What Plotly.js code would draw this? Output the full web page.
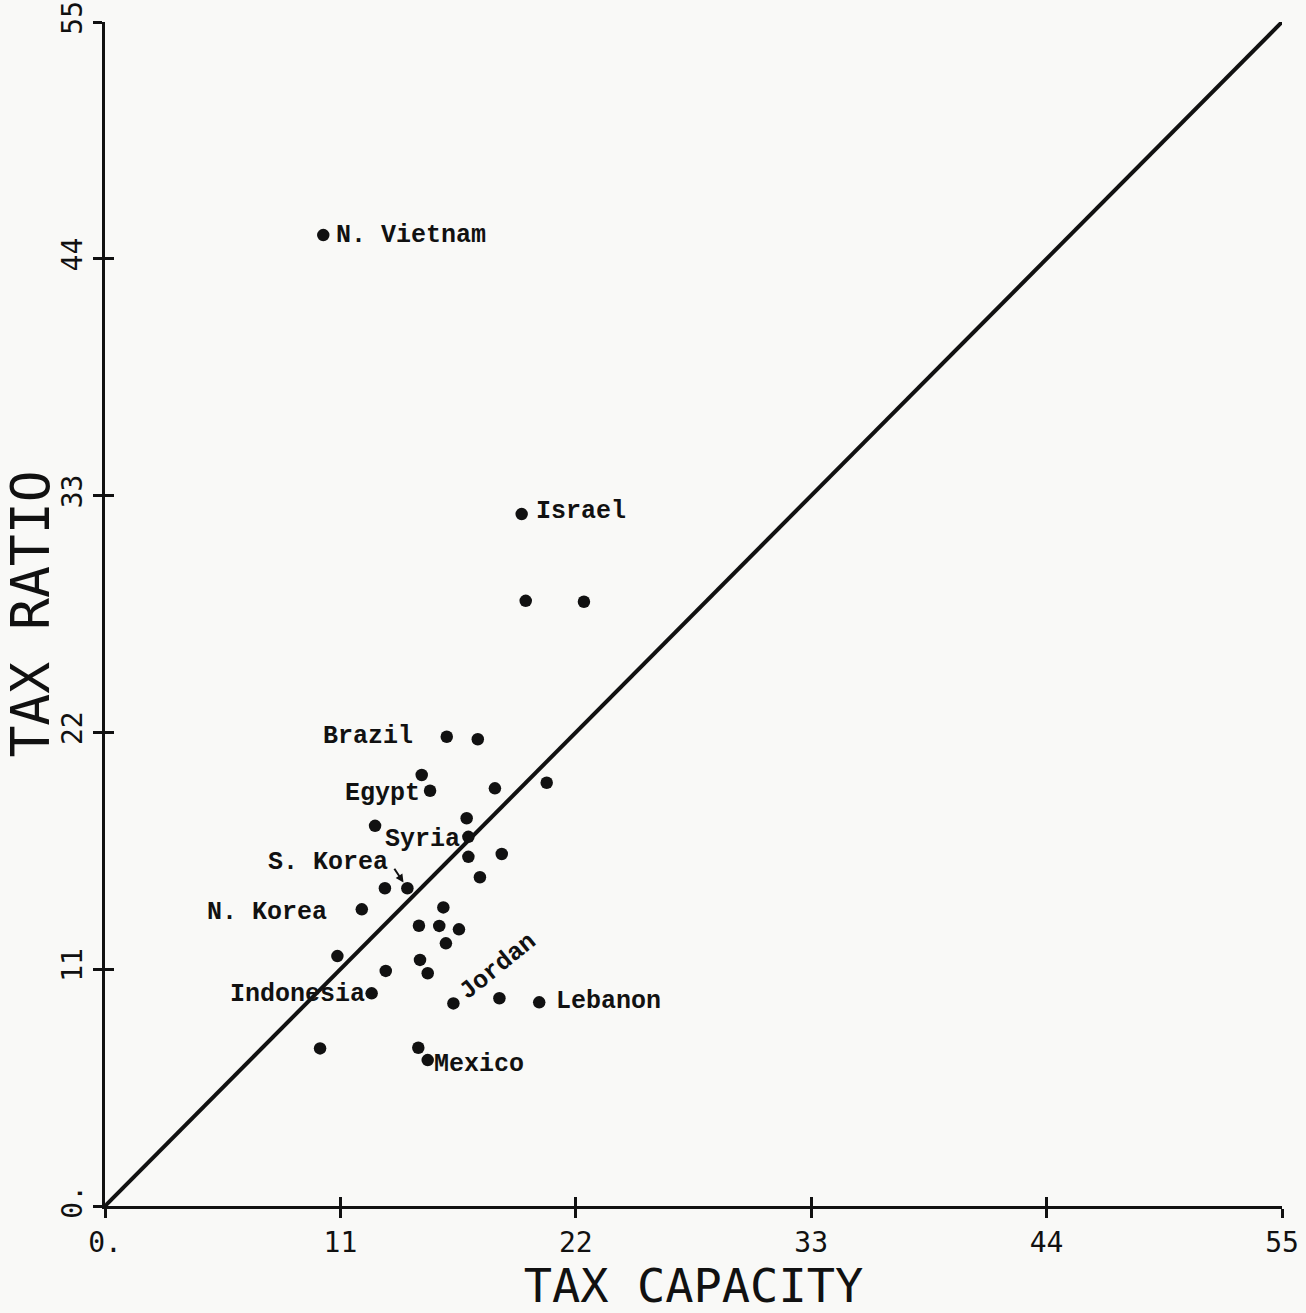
<!DOCTYPE html>
<html>
<head>
<meta charset="utf-8">
<script src="https://cdn.plot.ly/plotly-3.0.1.min.js"></script>
<style>
html, body { margin: 0; padding: 0; background: #f9f9f7; }
#chart { width: 1306px; height: 1313px; }
</style>
</head>
<body>
<div id="chart"></div>
<script>
// ---- data ----
const taxCapacity = [10.20, 19.47, 19.66, 22.38, 15.97, 17.42, 14.80, 15.19, 18.22, 20.64,
  12.62, 16.90, 16.98, 16.98, 18.54, 17.52, 14.13, 13.08, 12.00, 15.81,
  14.67, 15.62, 16.54, 15.93, 10.86, 14.72, 15.08, 13.12, 12.46, 16.28,
  18.43, 20.29, 10.05, 14.64, 15.08];
const taxRatio = [45.10, 32.14, 28.11, 28.07, 21.80, 21.68, 20.02, 19.29, 19.40, 19.66,
  17.66, 18.01, 17.15, 16.22, 16.35, 15.27, 14.76, 14.76, 13.78, 13.87,
  13.02, 13.01, 12.85, 12.20, 11.61, 11.43, 10.81, 10.92, 9.88, 9.41,
  9.65, 9.46, 7.32, 7.35, 6.78];
const countryNames = ['N. Vietnam', 'Israel', '', '', 'Brazil', '', '', 'Egypt', '', '',
  '', '', 'Syria', '', '', '', 'S. Korea', '', 'N. Korea', '',
  '', '', '', '', '', '', '', '', 'Indonesia', 'Jordan',
  '', 'Lebanon', '', '', 'Mexico'];
const diagonal = [0, 55];
const tickValues = [0, 11, 22, 33, 44, 55];
const tickLabels = ['0.', '11', '22', '33', '44', '55'];

// ---- label placement (style) ----
const labelStyle = {
  'N. Vietnam': {xanchor: 'left', xshift: 11, yshift: 0, angle: 0},
  'Israel': {xanchor: 'left', xshift: 12, yshift: 3, angle: 0},
  'Brazil': {xanchor: 'right', xshift: -32, yshift: 0, angle: 0},
  'Egypt': {xanchor: 'right', xshift: -8, yshift: -3, angle: 0},
  'Syria': {xanchor: 'right', xshift: -6, yshift: -3, angle: 0},
  'S. Korea': {xanchor: 'right', xshift: -17, yshift: 26, angle: 0},
  'N. Korea': {xanchor: 'right', xshift: -33, yshift: -3, angle: 0},
  'Indonesia': {xanchor: 'right', xshift: -5, yshift: -1, angle: 0},
  'Jordan': {xanchor: 'center', xshift: 45, yshift: 37, angle: -39},
  'Lebanon': {xanchor: 'left', xshift: 15, yshift: 1, angle: 0},
  'Mexico': {xanchor: 'left', xshift: 4, yshift: -4, angle: 0}
};

const ink = '#111111';
const labelFont = {family: 'Liberation Mono, Courier New, monospace', size: 25, color: ink, weight: 'bold'};
const axisFont = {family: 'DejaVu Sans Mono, monospace', size: 28, color: ink};

const annotations = [];
countryNames.forEach((name, i) => {
  if (!name) return;
  const s = labelStyle[name];
  annotations.push({
    x: taxCapacity[i], y: taxRatio[i], xref: 'x', yref: 'y',
    text: name, showarrow: false, xanchor: s.xanchor, yanchor: 'middle',
    xshift: s.xshift, yshift: s.yshift, textangle: s.angle, font: labelFont
  });
});
// small hooked arrow from "S. Korea" to its dot
const sk = countryNames.indexOf('S. Korea');
annotations.push({
  x: taxCapacity[sk], y: taxRatio[sk], xref: 'x', yref: 'y', text: '',
  showarrow: true, arrowhead: 2, arrowsize: 0.8, arrowwidth: 2, arrowcolor: ink,
  ax: -14, ay: -21, standoff: 7
});

const traces = [
  {x: diagonal, y: diagonal, mode: 'lines', line: {color: ink, width: 4}, hoverinfo: 'skip', showlegend: false},
  {x: taxCapacity, y: taxRatio, text: countryNames, mode: 'markers',
   marker: {color: ink, size: 12.5}, showlegend: false},
  {x: diagonal, y: diagonal, xaxis: 'x2', yaxis: 'y2', mode: 'markers',
   marker: {opacity: 0}, hoverinfo: 'skip', showlegend: false}
];

const layout = {
  width: 1306, height: 1313,
  paper_bgcolor: '#f9f9f7', plot_bgcolor: '#f9f9f7',
  margin: {l: 105, r: 24, t: 22, b: 107},
  xaxis: {
    range: [0, 55], tickvals: tickValues, ticktext: tickLabels,
    showgrid: false, zeroline: false, showline: true, linecolor: ink, linewidth: 3,
    ticks: 'outside', ticklen: 9, tickwidth: 3, tickcolor: ink,
    tickfont: axisFont,
    title: {text: 'TAX CAPACITY', font: {family: 'DejaVu Sans Mono, monospace', size: 47, color: ink}, standoff: 0}
  },
  yaxis: {
    range: [0, 55], tickvals: tickValues, ticktext: tickLabels, tickangle: -90,
    showgrid: false, zeroline: false, showline: true, linecolor: ink, linewidth: 3,
    ticks: 'outside', ticklen: 9, tickwidth: 3, tickcolor: ink,
    tickfont: axisFont,
    title: {text: 'TAX RATIO', font: {family: 'DejaVu Sans Mono, monospace', size: 53, color: ink}, standoff: 8}
  },
  xaxis2: {
    overlaying: 'x', range: [0, 55], tickvals: tickValues, showticklabels: false,
    showgrid: false, zeroline: false, showline: false,
    ticks: 'inside', ticklen: 9, tickwidth: 3, tickcolor: ink
  },
  yaxis2: {
    overlaying: 'y', range: [0, 55], tickvals: tickValues, showticklabels: false,
    showgrid: false, zeroline: false, showline: false,
    ticks: 'inside', ticklen: 9, tickwidth: 3, tickcolor: ink
  },
  annotations: annotations,
  showlegend: false
};

Plotly.newPlot('chart', traces, layout, {displayModeBar: false, staticPlot: true});
</script>
</body>
</html>
